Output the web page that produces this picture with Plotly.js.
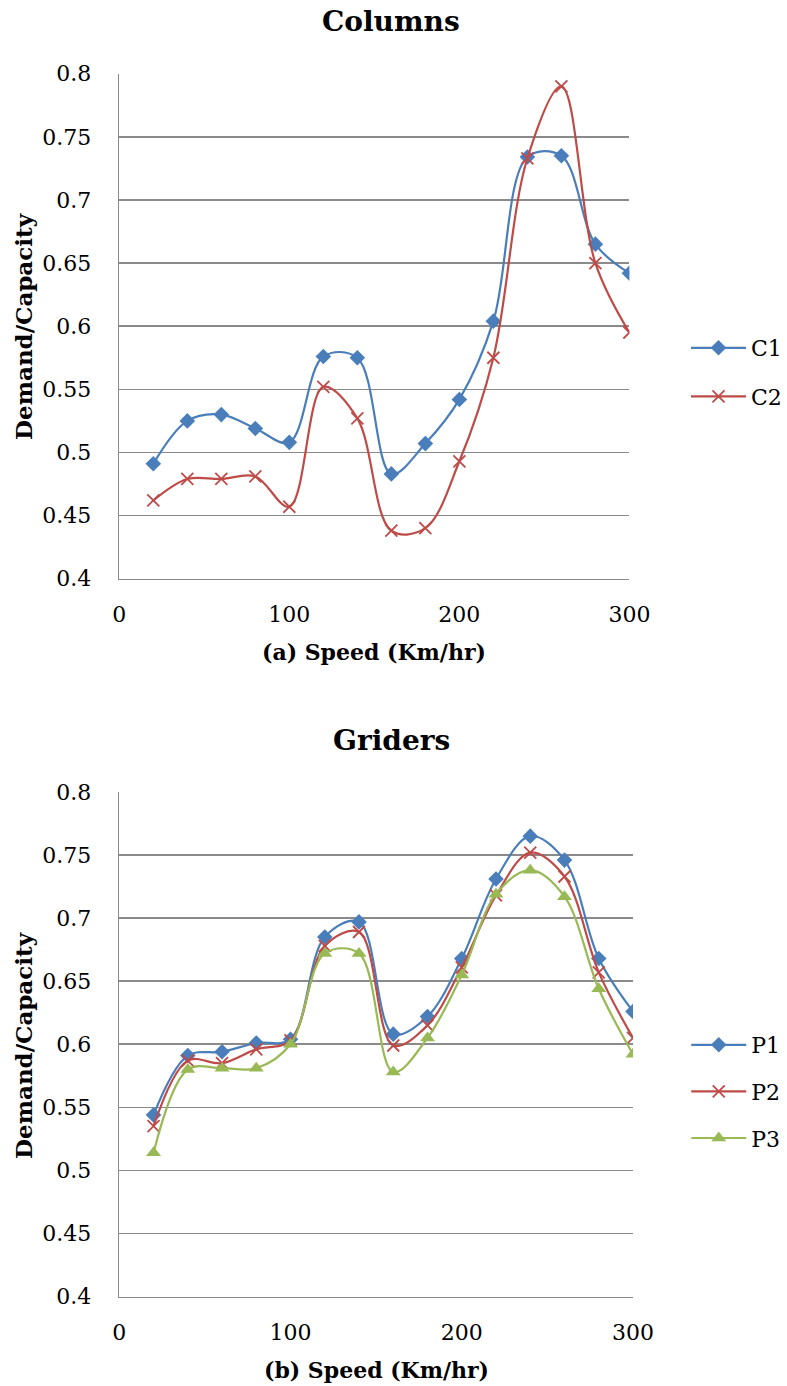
<!DOCTYPE html>
<html>
<head>
<meta charset="utf-8">
<script src="https://cdn.plot.ly/plotly-3.0.1.min.js"></script>
<style>html,body{margin:0;padding:0;background:#fff;}#chart{width:787px;height:1386px;}</style>
</head>
<body>
<div id="chart"></div>
<script>
// Speeds (Km/hr)
const speed = [20, 40, 60, 80, 100, 120, 140, 160, 180, 200, 220, 240, 260, 280, 300];

// (a) Columns
const c1 = [0.491, 0.525, 0.530, 0.519, 0.508, 0.576, 0.575, 0.483, 0.507, 0.542, 0.604, 0.734, 0.735, 0.665, 0.642];
const c2 = [0.462, 0.479, 0.479, 0.481, 0.457, 0.552, 0.527, 0.438, 0.440, 0.493, 0.575, 0.733, 0.790, 0.650, 0.595];

// (b) Griders
const p1 = [0.544, 0.591, 0.594, 0.601, 0.604, 0.685, 0.697, 0.608, 0.622, 0.668, 0.731, 0.765, 0.746, 0.668, 0.626];
const p2 = [0.535, 0.587, 0.585, 0.596, 0.603, 0.678, 0.689, 0.599, 0.615, 0.661, 0.718, 0.752, 0.733, 0.657, 0.605];
const p3 = [0.514, 0.580, 0.581, 0.581, 0.600, 0.672, 0.672, 0.578, 0.605, 0.655, 0.719, 0.738, 0.717, 0.644, 0.592];

const xTickVals = [0, 100, 200, 300];
const yTickVals = [0.4, 0.45, 0.5, 0.55, 0.6, 0.65, 0.7, 0.75, 0.8];
const yTickText = ['0.4', '0.45', '0.5', '0.55', '0.6', '0.65', '0.7', '0.75', '0.8'];

const BLUE = '#4A7EBB', RED = '#BE4B48', GREEN = '#98B954';
const FONT = '"DejaVu Serif", serif';
const GRID = '#8a8a8a';

function trace(y, name, color, symbol, xa, ya, legend, group) {
  const marker = {symbol: symbol, size: 12, color: color};
  if (symbol === 'x-thin-open') { marker.size = 12; marker.line = {width: 1.8, color: color}; }
  if (symbol === 'triangle-up') { marker.size = 13; }
  return {
    x: speed, y: y, name: name, type: 'scatter', mode: 'lines+markers',
    line: {color: color, width: 2.2, shape: 'spline', smoothing: 1},
    marker: marker, xaxis: xa, yaxis: ya, legend: legend, legendgroup: group
  };
}

const data = [
  trace(c1, 'C1', BLUE, 'diamond', 'x', 'y', 'legend', 'a'),
  trace(c2, 'C2', RED, 'x-thin-open', 'x', 'y', 'legend', 'b'),
  trace(p1, 'P1', BLUE, 'diamond', 'x2', 'y2', 'legend2', 'c'),
  trace(p2, 'P2', RED, 'x-thin-open', 'x2', 'y2', 'legend2', 'd'),
  trace(p3, 'P3', GREEN, 'triangle-up', 'x2', 'y2', 'legend2', 'e')
];

const W = 787, H = 1386;
function xa(l, r) {
  return {domain: [l / W, r / W], range: [0, 300], tickvals: xTickVals, ticks: '',
    showgrid: false, zeroline: false, showline: true, linecolor: GRID, linewidth: 1.6,
    tickfont: {family: FONT, size: 22, color: '#000'}, ticklabelstandoff: 15, fixedrange: true};
}
function ya(top, bottom) {
  return {domain: [1 - bottom / H, 1 - top / H], range: [0.4, 0.8], tickvals: yTickVals, ticktext: yTickText,
    ticks: '', showgrid: true, gridcolor: GRID, gridwidth: 1.6, zeroline: false,
    showline: true, linecolor: GRID, linewidth: 1.6,
    tickfont: {family: FONT, size: 22, color: '#000'}, ticklabelstandoff: 22, fixedrange: true};
}

function ann(text, x, y, size, angle) {
  return {text: text, xref: 'paper', yref: 'paper', x: x / W, y: 1 - y / H,
    xanchor: 'center', yanchor: 'middle', showarrow: false, textangle: angle || 0,
    font: {family: FONT, size: size, color: '#000', weight: 'bold'}};
}

const layout = {
  width: W, height: H,
  margin: {l: 0, r: 0, t: 0, b: 0},
  paper_bgcolor: '#fff', plot_bgcolor: '#fff',
  font: {family: FONT, color: '#000'},
  xaxis: Object.assign(xa(119.6, 631), {anchor: 'y'}),
  yaxis: Object.assign(ya(73.7, 578.7), {anchor: 'x'}),
  xaxis2: Object.assign(xa(119.6, 634.6), {anchor: 'y2'}),
  yaxis2: Object.assign(ya(792, 1296.5), {anchor: 'x2'}),
  legend: {x: 688 / W, y: 1 - 327 / H, xanchor: 'left', yanchor: 'top', itemwidth: 55,
    font: {family: FONT, size: 22, color: '#000'}, tracegroupgap: 17, bgcolor: 'rgba(0,0,0,0)'},
  legend2: {x: 688 / W, y: 1 - 1024 / H, xanchor: 'left', yanchor: 'top', itemwidth: 55,
    font: {family: FONT, size: 22, color: '#000'}, tracegroupgap: 15, bgcolor: 'rgba(0,0,0,0)'},
  annotations: [
    ann('Columns', 392, 22, 28),
    ann('(a) Speed (Km/hr)', 375, 652, 22),
    ann('Demand/Capacity', 23, 326, 23, -90),
    ann('Griders', 392, 740, 28),
    ann('(b) Speed (Km/hr)', 377, 1370, 22),
    ann('Demand/Capacity', 23, 1045, 23, -90)
  ],
  showlegend: true
};

Plotly.newPlot('chart', data, layout, {displayModeBar: false, staticPlot: true});
</script>
</body>
</html>
